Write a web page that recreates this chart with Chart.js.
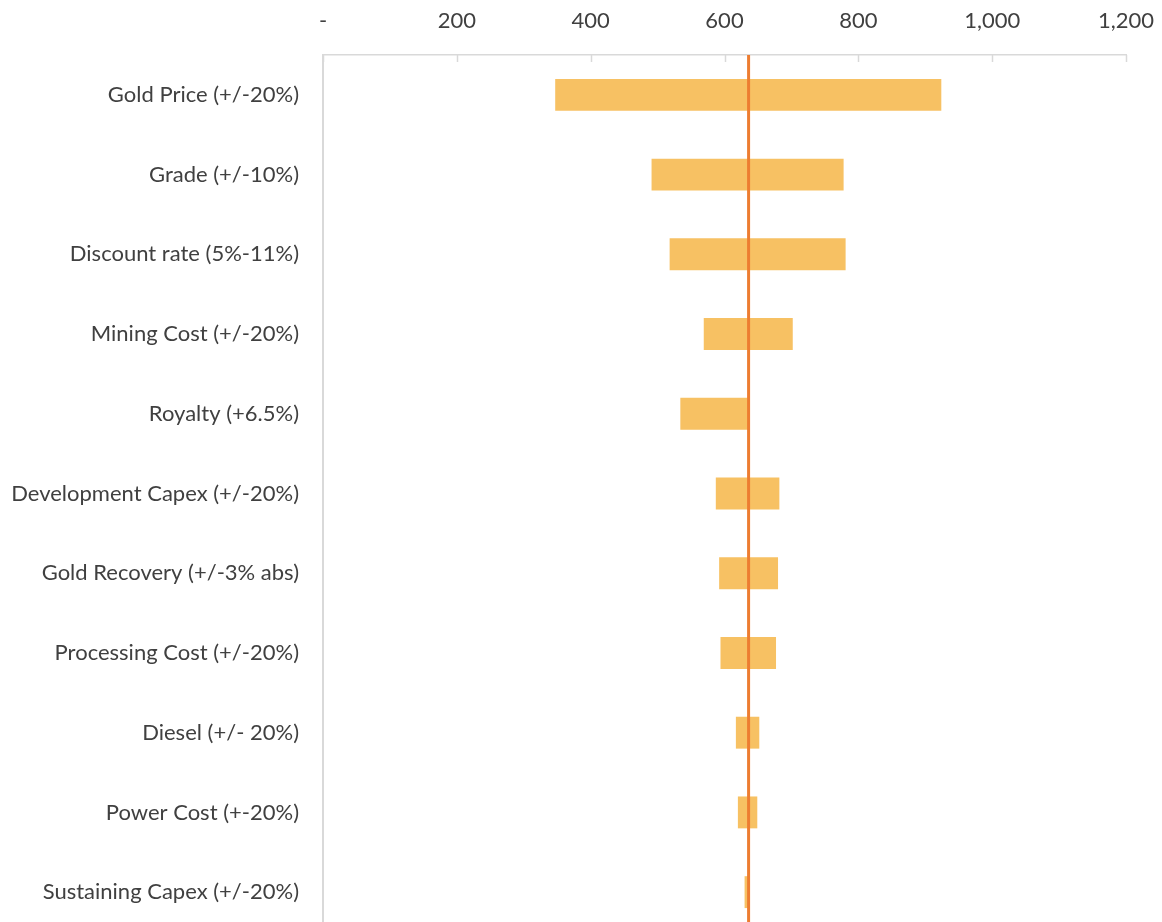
<!DOCTYPE html>
<html>
<head>
<meta charset="utf-8">
<script src="https://cdn.jsdelivr.net/npm/chart.js@4.4.1/dist/chart.umd.min.js"></script>
<style>
  html,body{margin:0;padding:0;background:#fff;overflow:hidden;}
  #wrap{width:1162px;height:932px;position:relative;}
</style>
</head>
<body>
<div id="wrap"><canvas id="chart"></canvas></div>
<script>
/* NPV sensitivity tornado: low/high per driver, base case line */

const DRIVERS = [
  "Gold Price (+/-20%)",
  "Grade (+/-10%)",
  "Discount rate (5%-11%)",
  "Mining Cost (+/-20%)",
  "Royalty (+6.5%)",
  "Development Capex (+/-20%)",
  "Gold Recovery (+/-3% abs)",
  "Processing Cost (+/-20%)",
  "Diesel (+/- 20%)",
  "Power Cost (+-20%)",
  "Sustaining Capex (+/-20%)"
];
const LOW  = [347, 491, 518, 569, 534, 587, 592, 594, 617, 620, 630];
const HIGH = [924, 778, 781, 702, 636, 682, 680, 677, 652, 649, 636];
const BASE = 636;
const X_TICKS = [0, 200, 400, 600, 800, 1000, 1200];

const FONT = "Lato, 'Open Sans', sans-serif";
const AXIS_GREY = "#d9d9d9";

const baseLinePlugin = {
  id:"baseline",
  afterDatasetsDraw(chart){
    const { ctx, chartArea, scales } = chart;
    const px = scales.x.getPixelForValue(BASE);
    ctx.save();
    ctx.strokeStyle = "#ED7D31"; ctx.lineWidth = 3;
    ctx.beginPath(); ctx.moveTo(px, chartArea.top); ctx.lineTo(px, chartArea.bottom); ctx.stroke();
    ctx.restore();
  }
};
// Excel-style "inside" tick marks under the top axis line
const innerTicksPlugin = {
  id:"innerticks",
  afterDraw(chart){
    const { ctx, chartArea, scales } = chart;
    ctx.save();
    ctx.strokeStyle = AXIS_GREY; ctx.lineWidth = 1.5;
    X_TICKS.forEach(v=>{
      const px = Math.round(scales.x.getPixelForValue(v)) + 0.5;
      ctx.beginPath(); ctx.moveTo(px, chartArea.top); ctx.lineTo(px, chartArea.top + 7); ctx.stroke();
    });
    ctx.restore();
  }
};

new Chart(document.getElementById("chart"), {
  type:"bar",
  data:{
    labels: DRIVERS,
    datasets:[{
      data: DRIVERS.map((_, i)=>[LOW[i], HIGH[i]]),
      backgroundColor:"#F7C163",
      borderWidth:0,
      categoryPercentage:1,
      barPercentage:0.4
    }]
  },
  options:{
    indexAxis:"y",
    responsive:true, maintainAspectRatio:false, animation:false,
    layout:{ padding:{ left:0, right:36, top:0, bottom:0 } },
    plugins:{ legend:{ display:false }, tooltip:{ enabled:false } },
    scales:{
      x:{
        position:"top", min:0, max:1200,
        afterBuildTicks: s => { s.ticks = X_TICKS.map(v=>({ value:v })); },
        afterFit: s => { s.height = 55; s.paddingLeft = 0; s.paddingRight = 0; },
        grid:{ display:true, drawOnChartArea:false, drawTicks:false },
        border:{ display:true, color:AXIS_GREY, width:1.5 },
        ticks:{ color:"#404040", padding:21, maxRotation:0,
          font:{ family:FONT, size:22 },
          callback: v => v === 0 ? "-" : v.toLocaleString("en-US") }
      },
      y:{
        afterFit: s => { s.width = 323; s.paddingTop = 0; s.paddingBottom = 0; },
        grid:{ display:false, drawTicks:false },
        border:{ display:true, color:AXIS_GREY, width:2 },
        ticks:{ color:"#404040", padding:24, font:{ family:FONT, size:22 } }
      }
    }
  },
  plugins:[baseLinePlugin, innerTicksPlugin]
});
</script>
</body>
</html>
